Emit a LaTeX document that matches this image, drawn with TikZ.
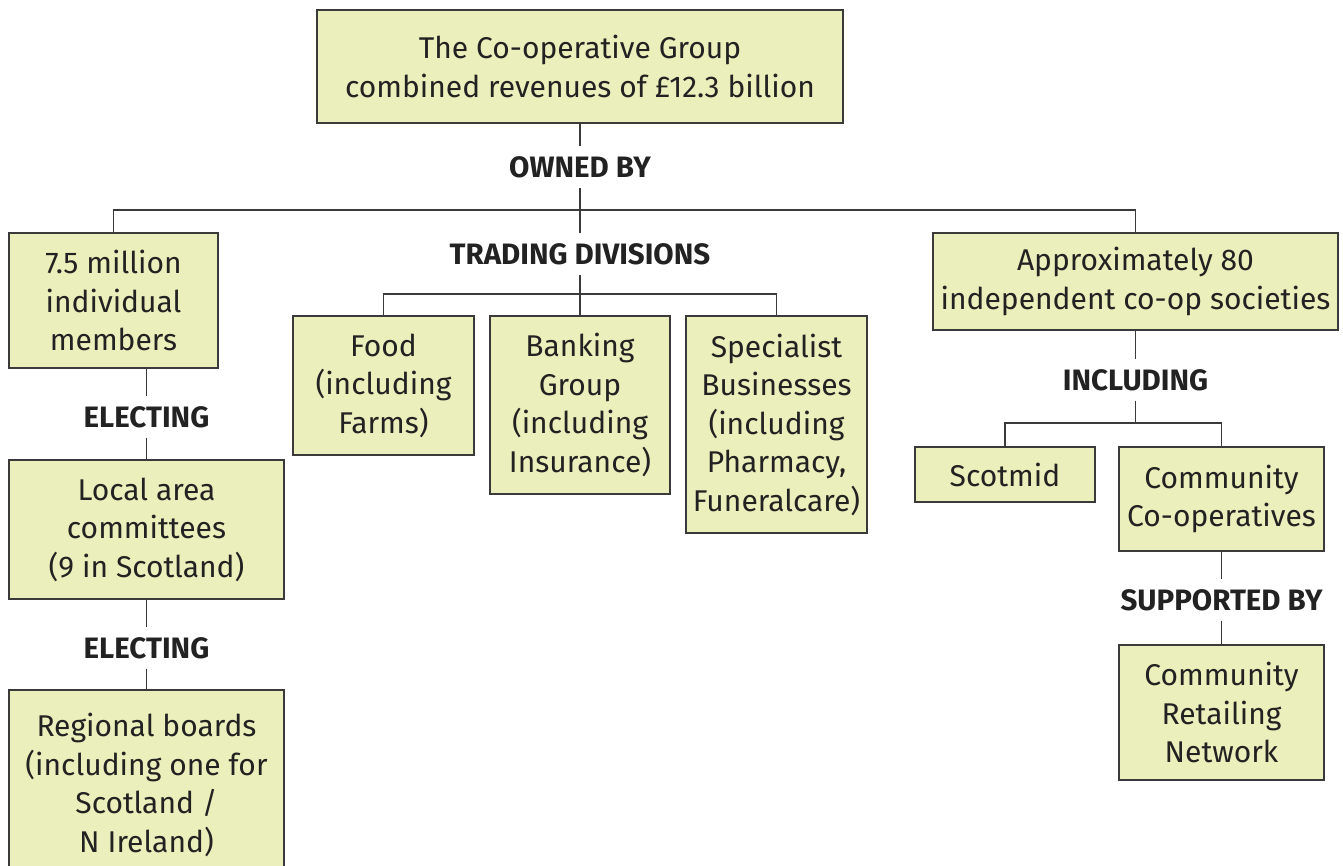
\documentclass[tikz,border=0pt]{standalone}
\usepackage{fontspec}
\setmainfont{Fira Sans}
\usepackage{xcolor}
\definecolor{pale}{HTML}{EBEFBB}
\definecolor{rule}{HTML}{3A3A3A}
\definecolor{ink}{HTML}{222222}
\usepackage{tikz}

\begin{document}
\begin{tikzpicture}[x=1pt, y=-1pt,
  box/.style={draw=rule, line width=1.5pt, fill=pale, text=ink, inner sep=0pt,
    align=center, font=\fontsize{30}{38.5}\selectfont},
  tag/.style={text=ink, inner xsep=0pt, inner ysep=10pt, text height=21pt,
    text depth=0pt, font=\bfseries\fontsize{29.5}{32}\selectfont},
  link/.style={draw=rule, line width=1.2pt}]

  \useasboundingbox (0,0) rectangle (1343,866);
  \clip (0,0) rectangle (1343,866);

  % Group at the top
  \node[box, minimum width=526pt, minimum height=113pt] (group) at (580,66.5)
    {The Co-operative Group\\combined revenues of £12.3 billion};
  \node[tag] (owned) at (580,167) {OWNED BY};
  \coordinate (ownbus) at (580,210);

  % Members and their elected bodies
  \node[box, minimum width=209pt, minimum height=135pt] (members) at (113.5,300.5)
    {7.5 million\\individual\\members};
  \node[tag] (elect1) at (146.5,417) {ELECTING};
  \node[box, minimum width=275pt, minimum height=139pt] (committees) at (146.5,529.5)
    {Local area\\committees\\(9 in Scotland)};
  \node[tag] (elect2) at (146.5,648) {ELECTING};
  \node[box, minimum width=275pt, minimum height=190pt] (boards) at (146.5,785)
    {Regional boards\\(including one for\\Scotland /\\N Ireland)};

  % Trading divisions
  \node[tag] (trading) at (580,254) {TRADING DIVISIONS};
  \coordinate (tradebus) at (580,294);
  \node[box, minimum width=181pt, minimum height=139pt] (food) at (383.5,385.5)
    {Food\\(including\\Farms)};
  \node[box, minimum width=180pt, minimum height=178pt] (banking) at (580,405)
    {Banking\\Group\\(including\\Insurance)};
  \node[box, minimum width=181pt, minimum height=217pt] (specialist) at (776.5,424.5)
    {Specialist\\Businesses\\(including\\Pharmacy,\\Funeralcare)};

  % Independent societies
  \node[box, minimum width=405pt, minimum height=97pt] (societies) at (1135.5,281.5)
    {Approximately 80\\independent co-op societies};
  \node[tag] (including) at (1135.5,380) {INCLUDING};
  \coordinate (societybus) at (1135.5,423);
  \node[box, minimum width=180pt, minimum height=55pt] (scotmid) at (1005,474.5)
    {Scotmid};
  \node[box, minimum width=205pt, minimum height=104pt] (community) at (1221.5,499)
    {Community\\Co-operatives};
  \node[tag] (supported) at (1221.5,600) {SUPPORTED BY};
  \node[box, minimum width=205pt, minimum height=135pt] (retailing) at (1221.5,712.5)
    {Community\\Retailing\\Network};

  % Connectors
  \draw[link] (group) -- (owned);
  \draw[link] (owned) -- (ownbus);
  \draw[link] (members.north) |- (ownbus) -| (societies.north);
  \draw[link] (ownbus) -- (trading);
  \draw[link] (elect1) -- (elect1 |- members.south);
  \draw[link] (elect1) -- (committees);
  \draw[link] (committees) -- (elect2);
  \draw[link] (elect2) -- (boards);
  \draw[link] (trading) -- (banking);
  \draw[link] (food.north) |- (tradebus) -| (specialist.north);
  \draw[link] (societies) -- (including);
  \draw[link] (including) -- (societybus);
  \draw[link] (scotmid.north) |- (societybus) -| (community.north);
  \draw[link] (community) -- (supported);
  \draw[link] (supported) -- (retailing);
\end{tikzpicture}
\end{document}
